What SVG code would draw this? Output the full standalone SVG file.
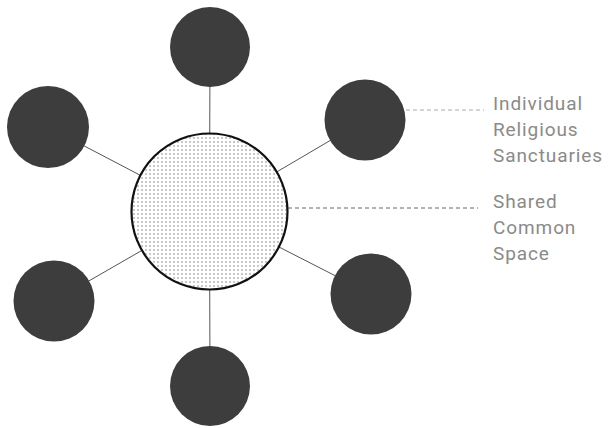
<svg xmlns="http://www.w3.org/2000/svg" width="610" height="428" viewBox="0 0 610 428">
<style>
.conn{stroke:#555;stroke-width:1;fill:none}
.node{fill:#3d3d3d}
.lbl{font-family:Roboto,"Liberation Sans",sans-serif;font-size:19px;fill:#8a8a8a;letter-spacing:0.9px;font-weight:400}
.lead1{stroke:#aaa;stroke-width:1;stroke-dasharray:4,3}
.lead2{stroke:#666;stroke-width:1;stroke-dasharray:4,3}
</style>
<defs>
<pattern id="dots" width="4" height="4" patternUnits="userSpaceOnUse">
<rect width="4" height="4" fill="#fff"/>
<circle cx="2" cy="2" r="0.75" fill="#777"/>
</pattern>
</defs>
<g id="connectors">
<line class="conn" x1="209.5" y1="211.5" x2="210" y2="47"/>
<line class="conn" x1="209.5" y1="211.5" x2="48" y2="127"/>
<line class="conn" x1="209.5" y1="211.5" x2="365" y2="120"/>
<line class="conn" x1="209.5" y1="211.5" x2="54" y2="301"/>
<line class="conn" x1="209.5" y1="211.5" x2="371" y2="294"/>
<line class="conn" x1="209.5" y1="211.5" x2="210" y2="386"/>
<line class="lead1" x1="406" y1="110" x2="484" y2="110"/>
<line class="lead2" x1="288" y1="208" x2="478" y2="208"/>
</g>
<g id="n-top"><circle class="node" cx="210" cy="47" r="40"/></g>
<g id="n-upper-left"><circle class="node" cx="48" cy="127" r="41"/></g>
<g id="n-upper-right"><circle class="node" cx="365" cy="120" r="40.5"/></g>
<g id="n-lower-left"><circle class="node" cx="54" cy="301" r="40.5"/></g>
<g id="n-lower-right"><circle class="node" cx="371" cy="294" r="40.5"/></g>
<g id="n-bottom"><circle class="node" cx="210" cy="386" r="40"/></g>
<g id="n-center"><circle cx="209.5" cy="211.5" r="78" fill="url(#dots)" stroke="#111" stroke-width="2.2"/></g>
<g id="label-sanctuaries">
<text class="lbl" x="493" y="110">Individual</text>
<text class="lbl" x="493" y="136">Religious</text>
<text class="lbl" x="493" y="162">Sanctuaries</text>
</g>
<g id="label-shared">
<text class="lbl" x="493" y="208">Shared</text>
<text class="lbl" x="493" y="234">Common</text>
<text class="lbl" x="493" y="260">Space</text>
</g>
</svg>
